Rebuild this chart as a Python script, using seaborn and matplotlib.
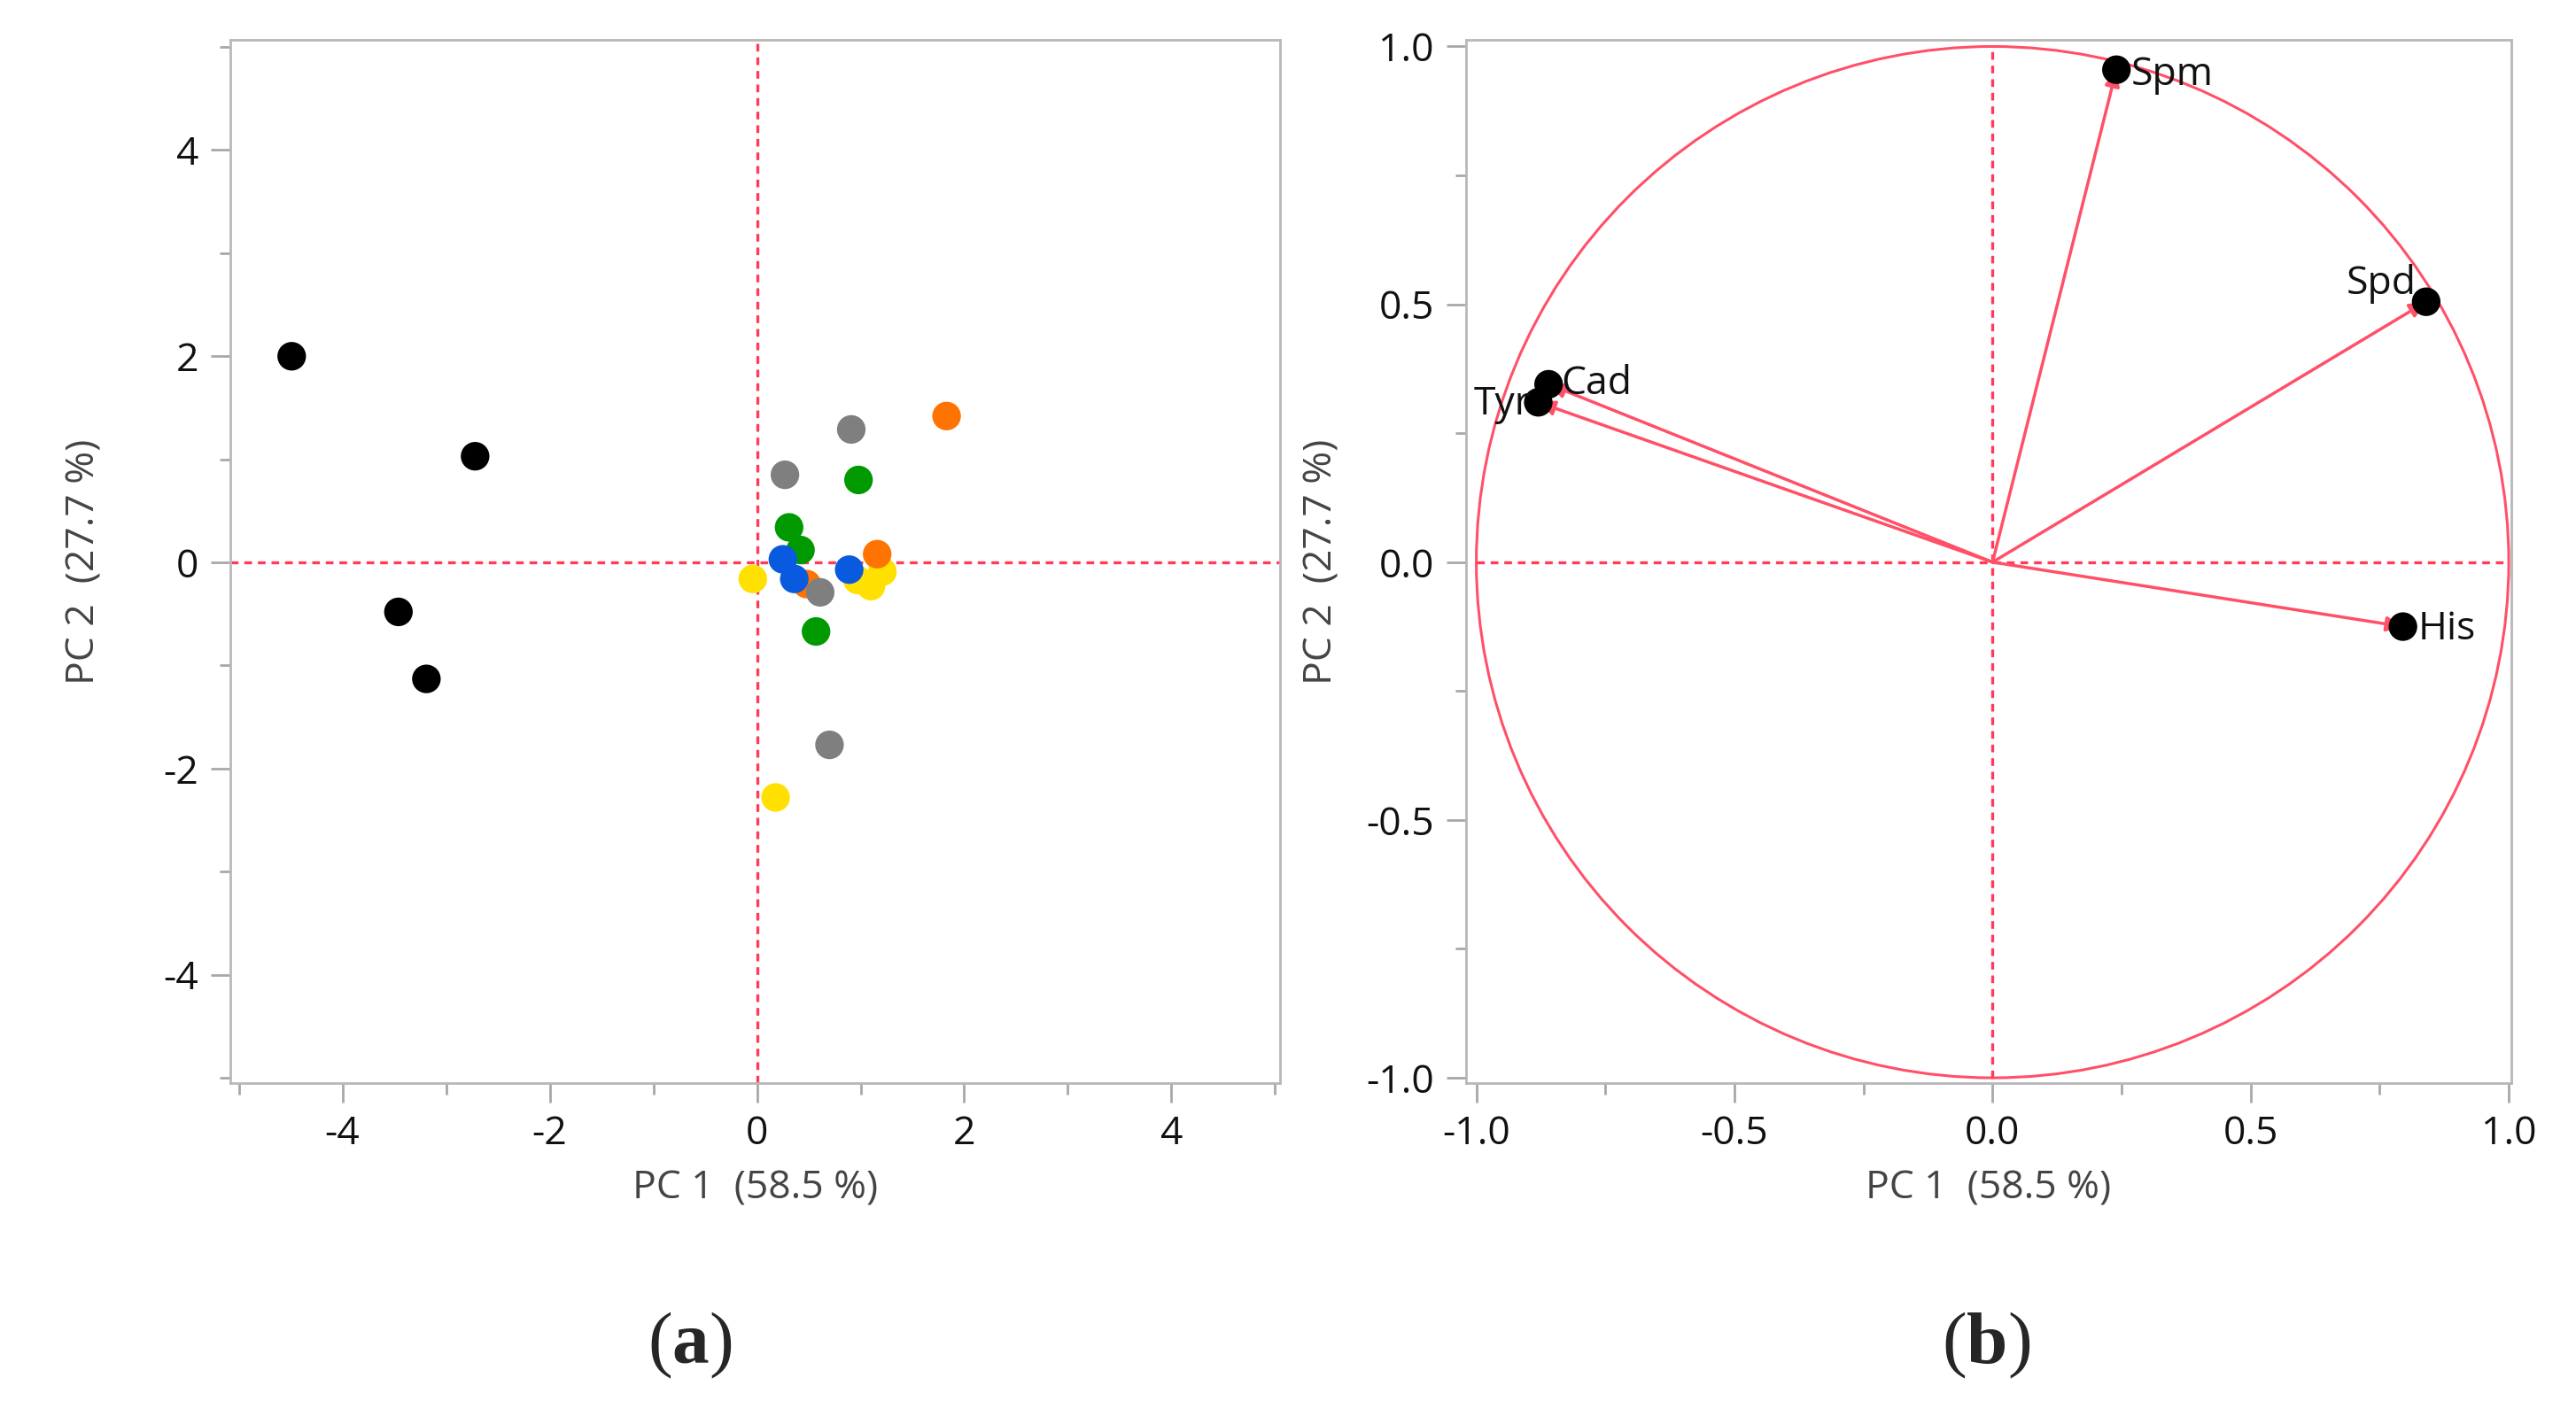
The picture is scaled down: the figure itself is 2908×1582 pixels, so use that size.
import matplotlib.pyplot as plt
import numpy as np
import pandas as pd
import seaborn as sns
from matplotlib.patches import Circle
from matplotlib.ticker import MultipleLocator, FormatStrFormatter

# score plot data (a), listed in drawing order
groups = (['yellow'] * 5 + ['orange'] * 3 + ['gray'] * 4 + ['green'] * 4
          + ['blue'] * 3 + ['black'] * 4)
pc1 = [-0.04, 0.18, 0.97, 1.10, 1.21,
       1.83, 1.16, 0.48,
       0.91, 0.27, 0.61, 0.70,
       0.98, 0.31, 0.42, 0.57,
       0.25, 0.36, 0.89,
       -4.49, -2.72, -3.46, -3.19]
pc2 = [-0.16, -2.28, -0.17, -0.23, -0.09,
       1.42, 0.08, -0.21,
       1.29, 0.85, -0.29, -1.77,
       0.80, 0.34, 0.12, -0.67,
       0.03, -0.16, -0.07,
       2.00, 1.03, -0.48, -1.13]

# loading plot data (b)
var_names = ['Spm', 'Spd', 'His', 'Cad', 'Tyr']
load1 = [0.24, 0.84, 0.795, -0.86, -0.88]
load2 = [0.955, 0.505, -0.125, 0.345, 0.31]

x_label = 'PC 1  (58.5 %)'
y_label = 'PC 2  (27.7 %)'

palette = {'black': '#000000', 'gray': '#7f7f7f', 'orange': '#ff7300',
           'green': '#009a00', 'blue': '#0a5ae0', 'yellow': '#ffe000'}
red_ref = '#ff3a5a'
red_line = '#ff5068'
frame_col = '#b8b8b8'

sns.set_style('white')
plt.rcParams['font.family'] = ['Open Sans', 'DejaVu Sans']
plt.rcParams['axes.unicode_minus'] = False
plt.rcParams['mathtext.fontset'] = 'custom'
plt.rcParams['mathtext.rm'] = 'Liberation Serif'
plt.rcParams['mathtext.bf'] = 'Liberation Serif:bold'

fig = plt.figure(figsize=(14.54, 7.91), dpi=200)
ax1 = fig.add_axes([0.0895, 0.227, 0.4075, 0.7446])
ax2 = fig.add_axes([0.5691, 0.227, 0.4058, 0.7446])


def style_axis(ax, major, minor, ypad):
    for sp in ax.spines.values():
        sp.set_visible(True)
        sp.set_color(frame_col)
        sp.set_linewidth(1.0)
    ax.xaxis.set_major_locator(MultipleLocator(major))
    ax.xaxis.set_minor_locator(MultipleLocator(minor))
    ax.yaxis.set_major_locator(MultipleLocator(major))
    ax.yaxis.set_minor_locator(MultipleLocator(minor))
    ax.tick_params(which='both', direction='out', bottom=True, left=True,
                   color='#a8a8a8', width=1.0)
    ax.tick_params(which='major', length=8, pad=5, labelsize=16,
                   labelcolor='#111111')
    ax.tick_params(which='minor', length=4.5)
    ax.set_xlabel(x_label, fontsize=16, color='#444444', labelpad=6)
    ax.set_ylabel(y_label, fontsize=16, color='#444444', labelpad=ypad)
    ax.grid(False)


# (a) scores
df = pd.DataFrame({'pc1': pc1, 'pc2': pc2, 'group': groups})
ax1.axhline(0, color=red_ref, lw=1.2, ls=(0, (2.6, 2.0)), zorder=1)
ax1.axvline(0, color=red_ref, lw=1.2, ls=(0, (2.6, 2.0)), zorder=1)
sns.scatterplot(data=df, x='pc1', y='pc2', hue='group', palette=palette,
                s=135, edgecolor='none', legend=False, ax=ax1, zorder=3)
ax1.set_xlim(-5.08, 5.05)
ax1.set_ylim(-5.05, 5.07)
style_axis(ax1, 2, 1, 24)

# (b) loadings
ax2.add_patch(Circle((0, 0), 1, fill=False, color=red_line, lw=1.1, zorder=1))
ax2.hlines(0, -1, 1, color=red_ref, lw=1.2, ls=(0, (2.6, 2.0)), zorder=1)
ax2.vlines(0, -1, 1, color=red_ref, lw=1.2, ls=(0, (2.6, 2.0)), zorder=1)
for lx, ly in zip(load1, load2):
    ax2.annotate('', xy=(lx, ly), xytext=(0, 0),
                 arrowprops=dict(arrowstyle='-|>,head_length=0.55,head_width=0.25',
                                 color=red_line, lw=1.25, shrinkA=0, shrinkB=0),
                 zorder=2)
sns.scatterplot(x=load1, y=load2, color='black', s=135, edgecolor='none',
                legend=False, ax=ax2, zorder=4)
label_pos = {'Spm': ((6, -2), 'left', 'center'),
             'Spd': ((-4, 3), 'right', 'baseline'),
             'His': ((6, -1), 'left', 'center'),
             'Cad': ((5, 0), 'left', 'center'),
             'Tyr': ((-3, -1), 'right', 'center')}
for name, lx, ly in zip(var_names, load1, load2):
    off, ha, va = label_pos[name]
    ax2.annotate(name, (lx, ly), xytext=off, textcoords='offset points',
                 ha=ha, va=va, fontsize=16, color='#111111', zorder=5)
ax2.set_xlim(-1.02, 1.005)
ax2.set_ylim(-1.01, 1.013)
style_axis(ax2, 0.5, 0.25, 10)
ax2.xaxis.set_major_formatter(FormatStrFormatter('%.1f'))
ax2.yaxis.set_major_formatter(FormatStrFormatter('%.1f'))

# red tick at zero
for ax in (ax1, ax2):
    for t in ax.xaxis.get_major_ticks() + ax.yaxis.get_major_ticks():
        if abs(t.get_loc()) < 1e-9:
            t.tick1line.set_color(red_ref)

fig.text(779 / 2908, 1 - 1519 / 1582, r'($\mathbf{a}$)', fontsize=30,
         family='Liberation Serif', ha='center', va='center')
fig.text(2242 / 2908, 1 - 1519 / 1582, r'($\mathbf{b}$)', fontsize=30,
         family='Liberation Serif', ha='center', va='center')

fig.savefig('out.png', dpi=200, facecolor='white')
